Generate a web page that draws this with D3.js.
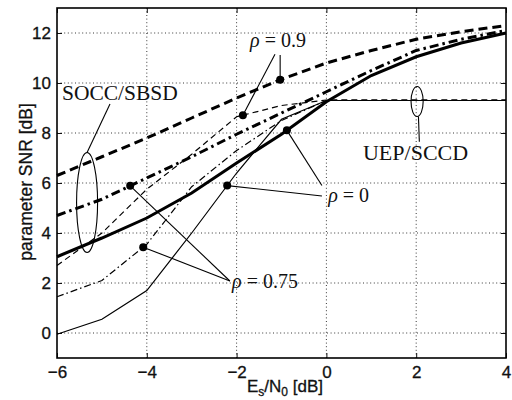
<!DOCTYPE html>
<html>
<head>
<script src="https://d3js.org/d3.v7.min.js" charset="utf-8"></script>
<style>
    body { margin: 0; background: #fff; }
    .tick text { font-family: "Liberation Sans", Arial, sans-serif; font-size: 17px; fill: #111; stroke: #111; stroke-width: 0.3; }
    .ann { font-family: "Liberation Serif", "Times New Roman", serif; fill: #111; }
</style>
</head>
<body>
<svg id="chart" width="512" height="400"></svg>
<script>
// Es/N0 [dB] sample points
const esn0 = [-6, -5, -4, -3, -2, -1, 0, 1, 2, 3, 4];

// SOCC/SBSD curves (thick)
const soccRho09  = [6.3, 7.05, 7.8, 8.6, 9.4, 10.15, 10.8, 11.3, 11.75, 12.05, 12.3];
const soccRho075 = [4.7, 5.35, 6.2, 7.05, 7.95, 8.8, 9.65, 10.5, 11.3, 11.75, 12.1];
const soccRho0   = [3.05, 3.8, 4.6, 5.6, 6.8, 7.95, 9.25, 10.3, 11.05, 11.6, 12.0];

// UEP/SCCD curves (thin)
const uepRho09  = [2.7, 4.0, 5.75, 7.15, 8.65, 9.1, 9.32, 9.33, 9.33, 9.33, 9.33];
const uepRho075 = [1.45, 2.1, 3.55, 5.85, 7.3, 8.5, 9.3, 9.3, 9.3, 9.3, 9.3];
const uepRho0   = [-0.05, 0.55, 1.7, 4.0, 6.4, 8.55, 9.3, 9.3, 9.3, 9.3, 9.3];

const xTicks = [-6, -4, -2, 0, 2, 4];
const yTicks = [0, 2, 4, 6, 8, 10, 12];

const svg = d3.select("#chart");
const x = d3.scaleLinear().domain([-6, 4]).range([57, 506]);
const y = d3.scaleLinear().domain([-1, 13]).range([358, 8]);

// grid
svg.append("g").selectAll("line").data(xTicks.slice(1, -1)).enter().append("line")
    .attr("x1", d => x(d)).attr("x2", d => x(d))
    .attr("y1", y(-1)).attr("y2", y(13))
    .attr("stroke", "#222").attr("stroke-width", 0.9).attr("stroke-dasharray", "1,2.6");
svg.append("g").selectAll("line").data(yTicks).enter().append("line")
    .attr("x1", x(-6)).attr("x2", x(4))
    .attr("y1", d => y(d)).attr("y2", d => y(d))
    .attr("stroke", "#222").attr("stroke-width", 0.9).attr("stroke-dasharray", "1,2.6");

// axes
const fmt = d => d3.format("")(d).replace("-", "\u2212");
svg.append("g").attr("transform", `translate(0,${y(-1)})`)
    .call(d3.axisBottom(x).tickValues(xTicks).tickSize(-5).tickPadding(8).tickFormat(fmt))
    .call(g => g.select(".domain").remove());
svg.append("g").attr("transform", `translate(${x(-6)},0)`)
    .call(d3.axisLeft(y).tickValues(yTicks).tickSize(-5).tickPadding(6).tickFormat(fmt))
    .call(g => g.select(".domain").remove());
svg.append("g").attr("transform", `translate(0,${y(13)})`)
    .call(d3.axisTop(x).tickValues(xTicks).tickSize(-5).tickFormat(""))
    .call(g => g.select(".domain").remove());
svg.append("g").attr("transform", `translate(${x(4)},0)`)
    .call(d3.axisRight(y).tickValues(yTicks).tickSize(-5).tickFormat(""))
    .call(g => g.select(".domain").remove());
svg.selectAll(".tick line").attr("stroke", "#111");

// curves
const line = d3.line().x((d, i) => x(esn0[i])).y(d => y(d));
const series = [
    {v: uepRho0,   w: 1.2, dash: null},
    {v: uepRho075, w: 1.2, dash: "7,3,1.5,3"},
    {v: uepRho09,  w: 1.2, dash: "6,4"},
    {v: soccRho0,  w: 3,   dash: null},
    {v: soccRho075, w: 3,  dash: "9,4,2.5,4"},
    {v: soccRho09, w: 3,   dash: "9,5"}
];
svg.append("g").selectAll("path").data(series).enter().append("path")
    .attr("d", d => line(d.v))
    .attr("fill", "none").attr("stroke", "#000")
    .attr("stroke-width", d => d.w)
    .attr("stroke-dasharray", d => d.dash);

// frame
svg.append("rect").attr("x", x(-6)).attr("y", y(13))
    .attr("width", x(4) - x(-6)).attr("height", y(-1) - y(13))
    .attr("fill", "none").attr("stroke", "#000").attr("stroke-width", 1.6);

// axis labels
const xl = svg.append("text").attr("x", 247).attr("y", 392)
    .attr("font-family", "Liberation Sans, Arial, sans-serif").attr("font-size", 17)
    .attr("fill", "#111").attr("stroke", "#111").attr("stroke-width", 0.3);
xl.append("tspan").text("E");
xl.append("tspan").attr("dy", 4).attr("font-size", 12).text("s");
xl.append("tspan").attr("dy", -4).text("/N");
xl.append("tspan").attr("dy", 4).attr("font-size", 12).text("0");
xl.append("tspan").attr("dy", -4).text(" [dB]");

svg.append("text").attr("transform", "translate(32,182) rotate(-90)")
    .attr("text-anchor", "middle")
    .attr("font-family", "Liberation Sans, Arial, sans-serif").attr("font-size", 17.5)
    .attr("fill", "#111").attr("stroke", "#111").attr("stroke-width", 0.3)
    .text("parameter SNR [dB]");

// annotations
function at(vals, xv) {
    const i = Math.min(d3.bisectRight(esn0, xv), esn0.length - 1);
    const t = (xv - esn0[i - 1]) / (esn0[i] - esn0[i - 1]);
    return vals[i - 1] + t * (vals[i] - vals[i - 1]);
}
const ann = svg.append("g");
function leader(x1, y1, x2, y2) {
    ann.append("line").attr("x1", x(x1)).attr("y1", y(y1)).attr("x2", x(x2)).attr("y2", y(y2))
        .attr("stroke", "#000").attr("stroke-width", 1.1);
}
function dot(vals, xv) {
    ann.append("circle").attr("cx", x(xv)).attr("cy", y(at(vals, xv))).attr("r", 4).attr("fill", "#000");
}
function rhoLabel(xv, yv, val) {
    const t = ann.append("text").attr("class", "ann").attr("x", x(xv)).attr("y", y(yv)).attr("font-size", 20);
    t.append("tspan").attr("font-style", "italic").text("ρ");
    t.append("tspan").text(" = " + val);
}

// rho = 0.9
leader(-1.145, 11.15, -1.86, at(uepRho09, -1.86));
leader(-1.03, 11.12, -1.03, at(soccRho09, -1.03));
dot(uepRho09, -1.86);
dot(soccRho09, -1.03);
rhoLabel(-1.70, 11.44, "0.9");

// rho = 0
leader(-0.1, 5.9, -0.88, at(soccRho0, -0.88));
leader(-0.1, 5.48, -2.21, at(uepRho0, -2.21));
dot(soccRho0, -0.88);
dot(uepRho0, -2.21);
rhoLabel(0.04, 5.24, "0");

// rho = 0.75
leader(-2.15, 2.08, -4.37, at(soccRho075, -4.37));
leader(-2.15, 2.08, -4.08, at(uepRho075, -4.08));
dot(soccRho075, -4.37);
dot(uepRho075, -4.08);
rhoLabel(-2.10, 1.8, "0.75");

// SOCC/SBSD group
ann.append("ellipse").attr("cx", x(-5.33)).attr("cy", y(5.22))
    .attr("rx", x(-5.33 + 0.234) - x(-5.33)).attr("ry", y(3.22) - y(5.22))
    .attr("fill", "none").attr("stroke", "#000").attr("stroke-width", 1.1);
leader(-4.82, 9.16, -5.33, 7.22);
ann.append("text").attr("class", "ann").attr("x", x(-5.89)).attr("y", y(9.32))
    .attr("font-size", 21.5).text("SOCC/SBSD");

// UEP/SCCD group
ann.append("ellipse").attr("cx", x(2.02)).attr("cy", y(9.26))
    .attr("rx", x(2.02 + 0.135) - x(2.02)).attr("ry", y(8.66) - y(9.26))
    .attr("fill", "none").attr("stroke", "#000").attr("stroke-width", 1.1);
leader(2.05, 8.66, 2.07, 7.65);
ann.append("text").attr("class", "ann").attr("x", x(0.815)).attr("y", y(6.92))
    .attr("font-size", 22).text("UEP/SCCD");
</script>
</body>
</html>
